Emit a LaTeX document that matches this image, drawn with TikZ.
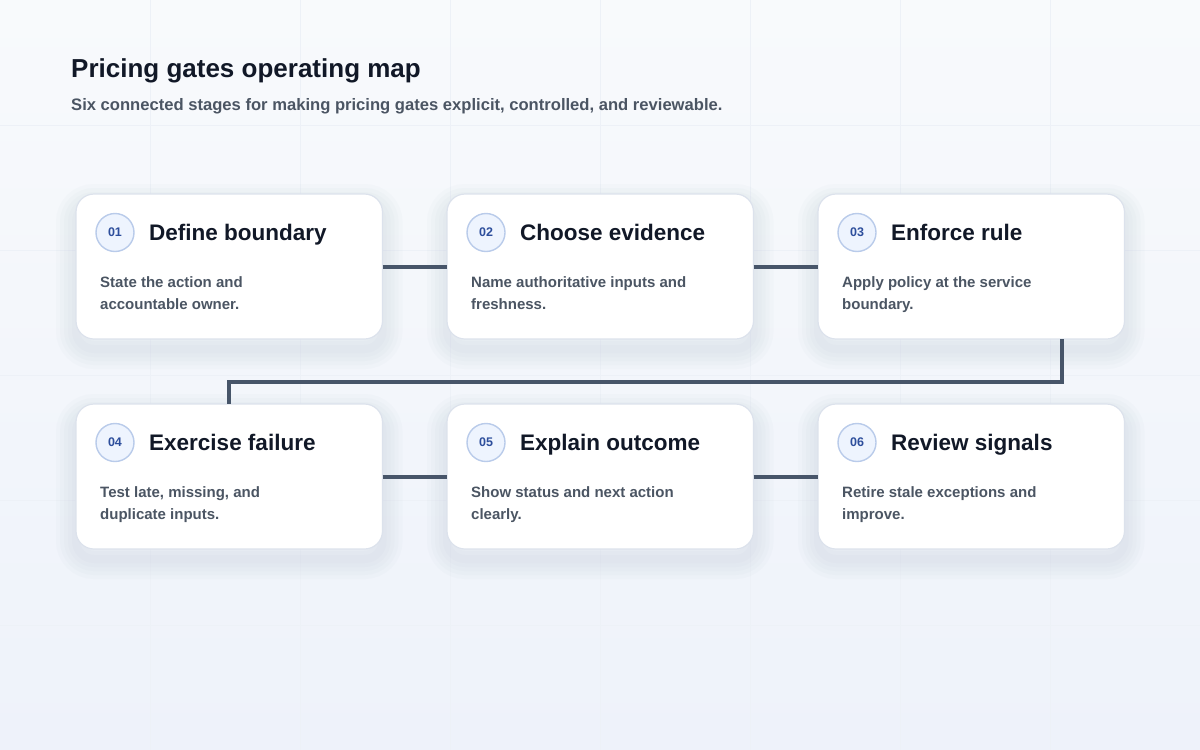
\documentclass[tikz,border=0pt]{standalone}
\usepackage{fontspec}
\setmainfont{Liberation Sans}
\usetikzlibrary{positioning}
\definecolor{ink}{HTML}{111827}
\definecolor{muted}{HTML}{4B5563}
\definecolor{wire}{HTML}{475569}
\definecolor{edge}{HTML}{DCE2EC}
\definecolor{ringc}{HTML}{B9CBEA}
\definecolor{ringfill}{HTML}{EEF4FE}
\definecolor{numc}{HTML}{2D4E9C}
\definecolor{bgtop}{HTML}{F8FAFC}
\definecolor{bgbot}{HTML}{EEF2FA}
\definecolor{gridc}{HTML}{EDF1F7}
\definecolor{shadowc}{HTML}{8A99B5}
\pgfdeclarelayer{back}
\pgfsetlayers{back,main}
\tikzset{glow/.style={preaction={draw=shadowc,line width=#1,opacity=0.032,transform canvas={yshift=-10pt}}}}
\tikzset{card/.style={draw=edge,line width=1.2pt,fill=white,rounded corners=18pt,minimum width=306.5pt,minimum height=145pt,inner sep=0pt,outer sep=0pt,glow=40pt,glow=32pt,glow=24pt,glow=16pt,glow=8pt}}
\tikzset{badge/.style={circle,draw=ringc,line width=1.4pt,fill=ringfill,minimum size=38pt,inner sep=0pt,text=numc,font=\bfseries\fontsize{12.5}{14}\selectfont}}
\tikzset{heading/.style={anchor=base west,inner sep=0pt,text=ink,font=\bfseries\fontsize{22.5}{26}\selectfont}}
\tikzset{blurb/.style={anchor=base west,inner sep=0pt,align=left,text=muted,font=\bfseries\fontsize{15}{22}\selectfont}}
\tikzset{link/.style={draw=wire,line width=4pt}}
\begin{document}
\begin{tikzpicture}[x=1pt,y=-1pt,node distance=64.5pt]
    \useasboundingbox (0,0) rectangle (1200,750);
    \begin{pgfonlayer}{back}
        \shade[top color=bgtop,bottom color=bgbot] (0,0) rectangle (1200,750);
        \draw[gridc] (150,0) -- (150,750) (300,0) -- (300,750) (450,0) -- (450,750) (600,0) -- (600,750) (750,0) -- (750,750) (900,0) -- (900,750) (1050,0) -- (1050,750);
        \draw[gridc] (0,125) -- (1200,125) (0,250) -- (1200,250) (0,375) -- (1200,375) (0,500) -- (1200,500) (0,625) -- (1200,625);
    \end{pgfonlayer}

    \node[anchor=base west,inner sep=0pt,text=ink,font=\bfseries\fontsize{26}{30}\selectfont] (title) at (71,77) {Pricing gates operating map};
    \node[anchor=base west,inner sep=0pt,text=muted,font=\bfseries\fontsize{16.6}{20}\selectfont] (subtitle) at (71,110) {Six connected stages for making pricing gates explicit, controlled, and reviewable.};

    \node[card] (c1) at (229.25,266.5) {};
    \node[card,right=of c1] (c2) {};
    \node[card,right=of c2] (c3) {};
    \node[card,below=65pt of c1] (c4) {};
    \node[card,right=of c4] (c5) {};
    \node[card,right=of c5] (c6) {};

     \node[badge] (n1) at ([xshift=39pt,yshift=-38.5pt]c1.north west) {01};
     \node[heading] (h1) at ([xshift=73pt,yshift=-46pt]c1.north west) {Define boundary};
     \node[blurb] (b1) at ([xshift=24pt,yshift=-115pt]c1.north west) {State the action and\\accountable owner.};

     \node[badge] (n2) at ([xshift=39pt,yshift=-38.5pt]c2.north west) {02};
     \node[heading] (h2) at ([xshift=73pt,yshift=-46pt]c2.north west) {Choose evidence};
     \node[blurb] (b2) at ([xshift=24pt,yshift=-115pt]c2.north west) {Name authoritative inputs and\\freshness.};

     \node[badge] (n3) at ([xshift=39pt,yshift=-38.5pt]c3.north west) {03};
     \node[heading] (h3) at ([xshift=73pt,yshift=-46pt]c3.north west) {Enforce rule};
     \node[blurb] (b3) at ([xshift=24pt,yshift=-115pt]c3.north west) {Apply policy at the service\\boundary.};

     \node[badge] (n4) at ([xshift=39pt,yshift=-38.5pt]c4.north west) {04};
     \node[heading] (h4) at ([xshift=73pt,yshift=-46pt]c4.north west) {Exercise failure};
     \node[blurb] (b4) at ([xshift=24pt,yshift=-115pt]c4.north west) {Test late, missing, and\\duplicate inputs.};

     \node[badge] (n5) at ([xshift=39pt,yshift=-38.5pt]c5.north west) {05};
     \node[heading] (h5) at ([xshift=73pt,yshift=-46pt]c5.north west) {Explain outcome};
     \node[blurb] (b5) at ([xshift=24pt,yshift=-115pt]c5.north west) {Show status and next action\\clearly.};

     \node[badge] (n6) at ([xshift=39pt,yshift=-38.5pt]c6.north west) {06};
     \node[heading] (h6) at ([xshift=73pt,yshift=-46pt]c6.north west) {Review signals};
     \node[blurb] (b6) at ([xshift=24pt,yshift=-115pt]c6.north west) {Retire stale exceptions and\\improve.};

        \path[link] (c1) -- (c2);
        \path[link] (c2) -- (c3);
        \path[link] ([xshift=91pt]c3.south) |- ([yshift=22pt]c4.north) -- (c4.north);
        \path[link] (c4) -- (c5);
        \path[link] (c5) -- (c6);
\end{tikzpicture}
\end{document}
